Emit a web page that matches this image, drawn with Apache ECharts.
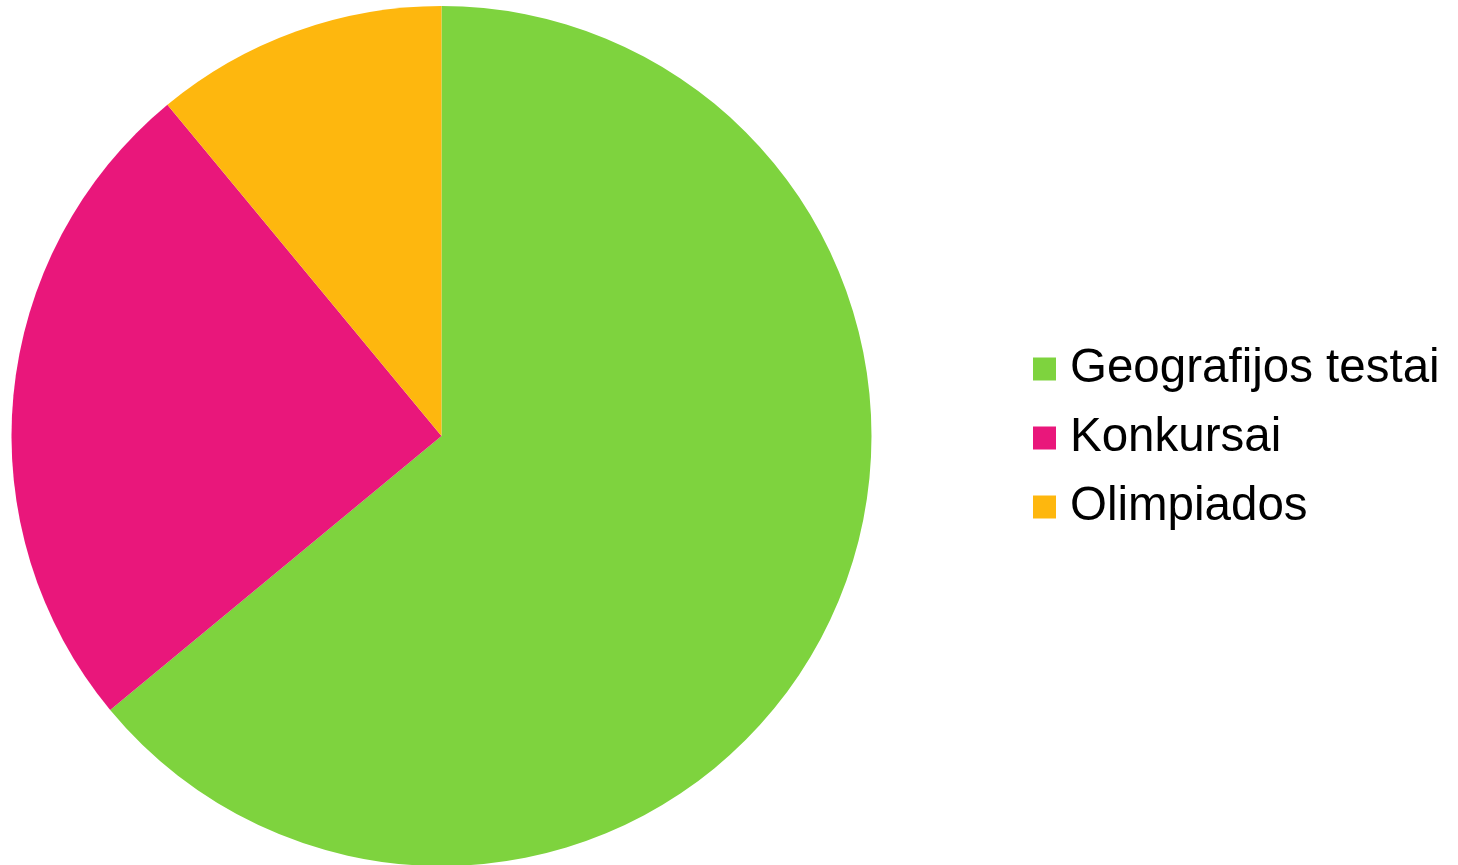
<!DOCTYPE html>
<html>
<head>
<meta charset="utf-8">
<script src="https://cdn.jsdelivr.net/npm/echarts@6/dist/echarts.min.js"></script>
<style>
html,body{margin:0;padding:0;background:#fff;}
#main{width:1458px;height:865px;}
</style>
</head>
<body>
<div id="main"></div>
<script>
const categories = ["Geografijos testai", "Konkursai", "Olimpiados"];
const values = [64, 25, 11];
const colors = ["#7ed33e", "#e9177b", "#feb70e"];

const chart = echarts.init(document.getElementById('main'), null, {renderer: 'canvas'});
chart.setOption({
  animation: false,
  color: colors,
  legend: {
    orient: 'vertical',
    left: 1033,
    top: 341,
    padding: 0,
    itemWidth: 23,
    itemHeight: 23,
    itemGap: 13,
    icon: 'rect',
    data: categories,
    textStyle: {
      fontFamily: 'Liberation Sans, Arial, sans-serif',
      fontSize: 47.5,
      lineHeight: 56,
      color: '#000',
      padding: [0, 0, 0, 9]
    }
  },
  series: [{
    type: 'pie',
    center: [441.5, 436],
    radius: [0, 430],
    startAngle: 90,
    clockwise: true,
    label: {show: false},
    labelLine: {show: false},
    itemStyle: {borderWidth: 0},
    emphasis: {disabled: true},
    data: categories.map((c, i) => ({name: c, value: values[i]}))
  }]
});
</script>
</body>
</html>
